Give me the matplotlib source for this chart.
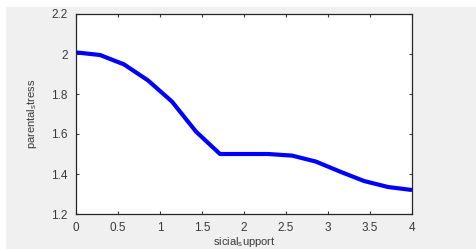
import numpy as np
import matplotlib
matplotlib.use("Agg")
import matplotlib.pyplot as plt
from matplotlib.patches import Rectangle

# ── data ──────────────────────────────────────────────────────────────────────
support = np.linspace(0, 4, 15)
stress = [2.008, 1.995, 1.948, 1.868, 1.762, 1.612, 1.500, 1.500,
          1.500, 1.492, 1.462, 1.412, 1.365, 1.335, 1.320]

x_ticks = [0, 0.5, 1, 1.5, 2, 2.5, 3, 3.5, 4]
y_ticks = [1.2, 1.4, 1.6, 1.8, 2.0, 2.2]
y_tick_labels = ["1.2", "1.4", "1.6", "1.8", "2", "2.2"]

# ── figure ────────────────────────────────────────────────────────────────────
plt.rcParams["font.family"] = ["Liberation Sans", "DejaVu Sans"]
plt.rcParams["mathtext.fontset"] = "custom"
plt.rcParams["mathtext.rm"] = "Liberation Sans"

W, H = 476, 249
fig = plt.figure(figsize=(W / 100, H / 100), dpi=100, facecolor="#f0f0f0")
# white border strip at top and left of the screenshot
fig.patches.append(Rectangle((0, 1 - 6 / H), 1, 6 / H, transform=fig.transFigure,
                             color="white", zorder=-1))
fig.patches.append(Rectangle((0, 0), 5 / W, 1, transform=fig.transFigure,
                             color="white", zorder=-1))

ax = fig.add_axes([76 / W, (H - 214) / H, 336 / W, 200 / H])
ax.set_facecolor("white")
ax.plot(support, stress, color="#0000ff", linewidth=3.0, solid_capstyle="butt")

ax.set_xlim(0, 4)
ax.set_ylim(1.2, 2.2)
ax.set_xticks(x_ticks)
ax.set_xticklabels([f"{t:g}" for t in x_ticks])
ax.set_yticks(y_ticks)
ax.set_yticklabels(y_tick_labels)
ax.tick_params(direction="in", length=2.5, width=0.8, labelsize=8.5,
               colors="#3a3a3a", top=True, right=True, pad=6)
for s in ax.spines.values():
    s.set_color("#262626")
    s.set_linewidth(0.9)

ax.set_xlabel(r"sicial$_{\rm s}$upport", fontsize=8, color="#3a3a3a", labelpad=0.5)
ax.set_ylabel(r"parental$_{\rm s}$tress", fontsize=8, color="#3a3a3a", labelpad=9)

fig.savefig("out.png", dpi=100, facecolor=fig.get_facecolor())
